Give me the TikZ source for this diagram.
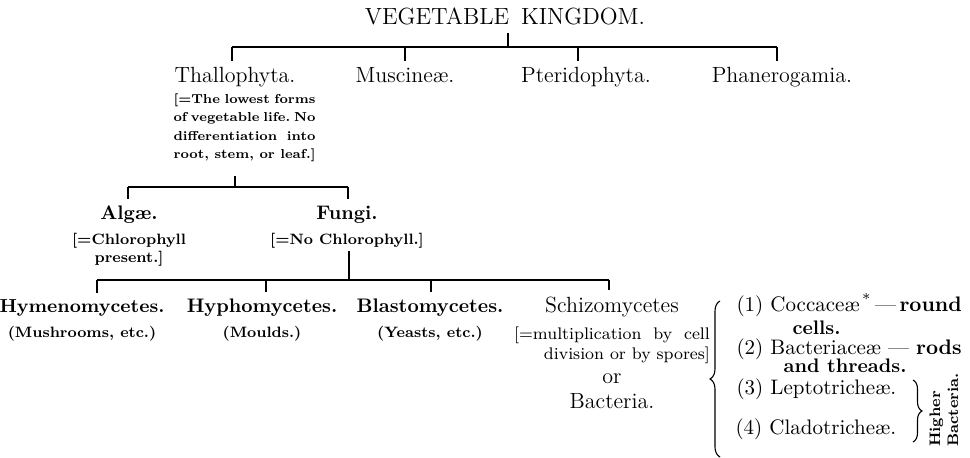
\documentclass[tikz,border=0pt]{standalone}
\usepackage{fontspec}
\usetikzlibrary{positioning,decorations.pathreplacing}

\begin{document}
\begin{tikzpicture}[
  x=0.5pt, y=-0.5pt,
  line width=0.55pt,
  node distance=0pt,
  head/.style={font=\fontsize{11.7}{13}\selectfont, anchor=base},
  phylum/.style={font=\fontsize{11}{12}\selectfont, anchor=base},
  group/.style={font=\fontsize{9.8}{12}\selectfont\bfseries, anchor=base},
  note/.style={font=\fontsize{7.5}{8.6}\selectfont\bfseries, align=center, inner sep=1pt},
  plain note/.style={font=\fontsize{8.4}{9.8}\selectfont, align=right, inner sep=1pt},
  item/.style={font=\fontsize{10.5}{12}\selectfont, anchor=base west, inner sep=0pt},
  curly/.style={decorate, decoration={brace, amplitude=#1}},
]
  \useasboundingbox (0,0) rectangle (970,458);

  % top level
  \node[head] (kingdom) at (505,25) {VEGETABLE\hspace{6pt}KINGDOM.};
  \node[phylum] (thallo) at (235,83) {Thallophyta.};
  \node[phylum] (musc) at (405,83) {Muscineæ.};
  \node[phylum] (pter) at (586,83) {Pteridophyta.};
  \node[phylum] (phan) at (782,83) {Phanerogamia.};
  \node[note, font=\fontsize{6.5}{9.2}\selectfont\bfseries, anchor=north west, inner sep=0pt]
    (thallonote) at (173,93)
    {\makebox[71pt]{[=The\hfill lowest\hfill forms}\\
     \makebox[71pt]{of\hfill vegetable\hfill life.\hfill No}\\
     \makebox[71pt]{differentiation\hfill into}\\
     \makebox[71pt]{root,\hfill stem,\hfill or\hfill leaf.]}};

  \coordinate (k) at (508,47);
  \coordinate (p1) at (232,47);
  \coordinate (p2) at (405,47);
  \coordinate (p3) at (578,47);
  \coordinate (p4) at (777,47);
  \draw (kingdom.south -| k) -- (k);
  \draw (p1) -- (p4);
  \foreach \n/\c in {1/thallo,2/musc,3/pter,4/phan}
    \draw (p\n) -- (p\n |- \c.north);

  % algae and fungi
  \node[group] (algae) at (129,220) {Algæ.};
  \node[group] (fungi) at (347,220) {Fungi.};
  \node[note, below=0pt of algae] (algaenote) {[=Chlorophyll\\present.]};
  \node[note, below=0pt of fungi] (funginote) {[=No Chlorophyll.]};

  \coordinate (q) at (235,187);
  \coordinate (q1) at (128,187);
  \coordinate (q2) at (348,187);
  \draw[shorten <=7pt] (thallonote.south -| q) -- (q);
  \draw (q1) -- (q2);
  \draw (q1) -- (q1 |- algae.north);
  \draw (q2) -- (q2 |- fungi.north);

  % fungi classes
  \node[group, font=\fontsize{9.4}{12}\selectfont\bfseries] (hymeno) at (82,313) {Hymenomycetes.};
  \node[group] (hypho) at (262,313) {Hyphomycetes.};
  \node[group] (blasto) at (430,313) {Blastomycetes.};
  \node[phylum] (schizo) at (612,313) {Schizomycetes};
  \node[note, below=0pt of hymeno] (hymenonote) {(Mushrooms, etc.)};
  \node[note, below=0pt of hypho] (hyphonote) {(Moulds.)};
  \node[note, below=0pt of blasto] (blastonote) {(Yeasts, etc.)};
  \node[plain note, below=0pt of schizo] (schizonote)
    {[=multiplication\ \ by\ \ cell\\division or by spores]};
  \node[phylum, anchor=north, below=0pt of schizonote] (or) {or};
  \node[phylum, anchor=north, below=-2pt of or] (bacteria) {Bacteria.};

  \coordinate (r) at (349,280);
  \coordinate (r1) at (97,280);
  \coordinate (r2) at (266,280);
  \coordinate (r3) at (431,280);
  \coordinate (r4) at (609,280);
  \draw (funginote.south -| r) -- (r);
  \draw (r1) -- (r4);
  \foreach \n/\c in {1/hymeno,2/hypho,3/blasto,4/schizo}
    \draw (r\n) -- (r\n |- \c.north);

  % bacteria families
  \node[item] (n1) at (736,312) {(1)};
  \node[item, base right=3pt of n1] (cocc) {Coccaceæ\textsuperscript{\,*}\,—\,\textbf{round}};
  \node[item, font=\fontsize{9.8}{12}\selectfont\bfseries] (cells) at (792,335) {cells.};
  \node[item] (n2) at (736,355) {(2)};
  \node[item, base right=3pt of n2] (bact) {Bacteriaceæ — \textbf{rods}};
  \node[item, font=\fontsize{9.8}{12}\selectfont\bfseries] (threads) at (783,373) {and threads.};
  \node[item] (n3) at (736,395) {(3)};
  \node[item, base right=3pt of n3] (lepto) {Leptotricheæ.};
  \node[item] (n4) at (735,435) {(4)};
  \node[item, base right=3pt of n4] (clado) {Cladotricheæ.};
  \node[font=\fontsize{7.6}{9}\selectfont\bfseries, rotate=90, align=left, inner sep=0pt]
    (higher) at (944,410) {Higher\\Bacteria.};

  \coordinate (bt) at (720,301);
  \coordinate (bb) at (720,457);
  \coordinate (st) at (913,380);
  \coordinate (sb) at (913,442);
  \draw[curly=5pt] (bb) -- (bt);
  \draw[curly=4.5pt] (st) -- (sb);
\end{tikzpicture}
\end{document}
